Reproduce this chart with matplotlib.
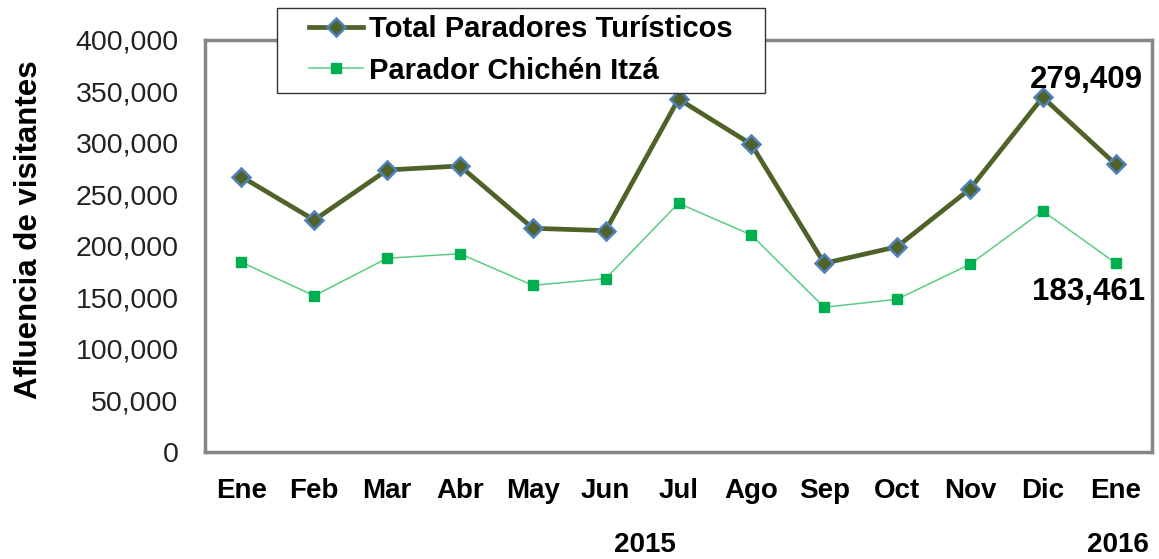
import matplotlib
matplotlib.use("Agg")
import matplotlib.pyplot as plt
from matplotlib.ticker import FuncFormatter, MultipleLocator
from matplotlib.patches import Rectangle

months = ["Ene", "Feb", "Mar", "Abr", "May", "Jun", "Jul", "Ago", "Sep", "Oct", "Nov", "Dic", "Ene"]
total = [267300, 225200, 273800, 277700, 217200, 214900, 342700, 298700, 183200, 199300, 255300, 344400, 279409]
chichen = [184200, 151700, 188100, 192500, 161800, 168300, 241500, 210700, 140500, 148300, 182200, 234000, 183461]
years = ["2015", "2016"]

plt.rcParams['font.family'] = ['Liberation Sans', 'DejaVu Sans']

fig = plt.figure(figsize=(11.59, 5.59), dpi=100)
ax = fig.add_axes([205/1159, 1 - 452/559, (1152-205)/1159, (452-40)/559])

x = list(range(len(months)))
ax.plot(x, total, color="#4F6228", lw=3.4, marker="D", markersize=9,
        markerfacecolor="#4F6228", markeredgecolor="#4F81BD", markeredgewidth=1.8,
        label="Total Paradores Turísticos", zorder=3)
ax.plot(x, chichen, color="#5DCB85", lw=1.1, marker="s", markersize=7,
        markerfacecolor="#00B050", markeredgecolor="#00B050",
        label="Parador Chichén Itzá", zorder=3)

ax.set_xlim(-0.5, len(months) - 0.5)
ax.set_ylim(0, 400000)
ax.yaxis.set_major_locator(MultipleLocator(50000))
ax.yaxis.set_major_formatter(FuncFormatter(lambda v, p: f"{int(v):,}"))
ax.set_xticks(x)
ax.set_xticklabels(months, fontsize=20, fontweight="bold")
ax.tick_params(axis="y", length=0, labelsize=20.5, pad=19, labelcolor="#222222")
ax.tick_params(axis="x", length=0, pad=19)
for s in ax.spines.values():
    s.set_color("#868686")
    s.set_linewidth(2.5)

ax.set_ylabel("Afluencia de visitantes", fontsize=22.5, fontweight="bold")
ax.yaxis.set_label_coords(-0.170, 0.54)

ax.annotate(f"{total[-1]:,}", xy=(11.5, 0), xycoords=("data", "axes fraction"),
            xytext=(1086/1159, 1 - 80/559), textcoords="figure fraction",
            ha="center", va="center", fontsize=22.5, fontweight="bold")
ax.annotate(f"{chichen[-1]:,}", xy=(11.5, 0), xycoords=("data", "axes fraction"),
            xytext=(1089/1159, 1 - 292/559), textcoords="figure fraction",
            ha="center", va="center", fontsize=22.5, fontweight="bold")

fig.text(645/1159, 1 - 545/559, years[0], ha="center", va="center", fontsize=20, fontweight="bold")
fig.text(1118/1159, 1 - 545/559, years[1], ha="center", va="center", fontsize=20, fontweight="bold")

frame = Rectangle((277/1159, 1 - 93/559), (765-277)/1159, (93-8)/559, transform=fig.transFigure,
                  facecolor="white", edgecolor="#333333", linewidth=1.0, zorder=4)
fig.add_artist(frame)
leg = fig.legend(*ax.get_legend_handles_labels(), loc="center left",
                 bbox_to_anchor=(309/1159, 1 - 50/559),
                 prop={"weight": "bold", "size": 21}, frameon=False,
                 borderpad=0, labelspacing=0.45,
                 handlelength=1.85, handletextpad=0.2, borderaxespad=0)
leg.set_zorder(5)

fig.savefig("out.png", dpi=100)
